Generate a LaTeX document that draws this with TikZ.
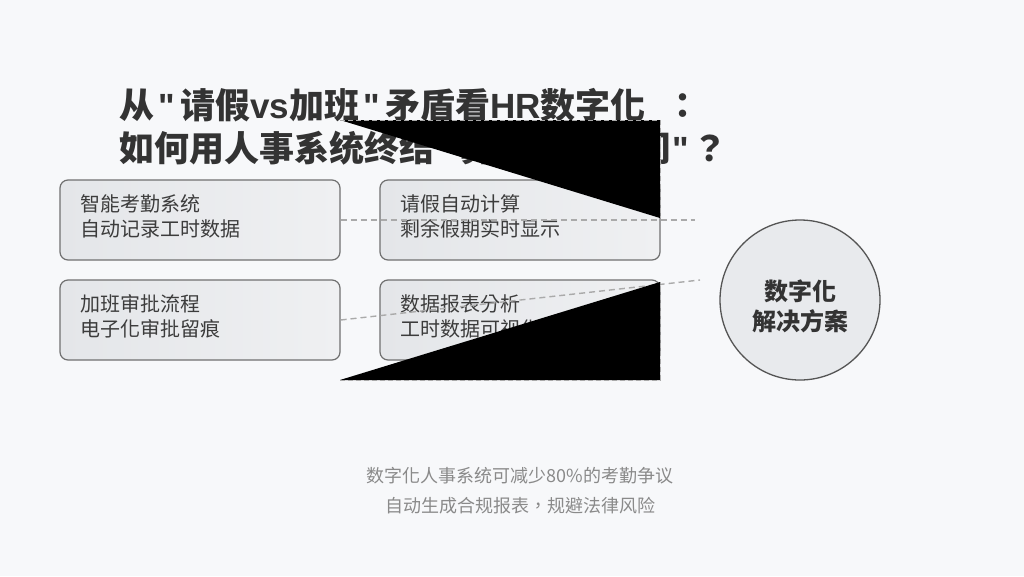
\documentclass[tikz,border=0pt]{standalone}
\usepackage{fontspec}
\setmainfont{Noto Sans CJK TC}[Ligatures=TeXOff]
\newfontfamily\titlelatin{Liberation Sans}[Ligatures=TeXOff]
\newcommand{\qmark}{\makebox[26pt]{\titlelatin "}}
\newcommand{\latinbit}[1]{{\titlelatin #1}}
\usetikzlibrary{positioning}
\definecolor{pagebg}{HTML}{F7F8FA}
\definecolor{boxleft}{HTML}{E4E6E9}
\definecolor{boxright}{HTML}{EFF0F2}
\definecolor{boxline}{HTML}{707070}
\definecolor{hubfill}{HTML}{E8EAED}
\definecolor{hubline}{HTML}{555555}
\definecolor{titlecol}{HTML}{333333}
\definecolor{textcol}{HTML}{3C3C3C}
\definecolor{notecol}{HTML}{8A8A8A}
\definecolor{dashcol}{HTML}{AAAAAA}

\begin{document}
\begin{tikzpicture}[x=1pt,y=-1pt]
\fill[pagebg] (0,0) rectangle (1024,576);
\useasboundingbox (0,0) rectangle (1024,576);
\tikzset{FeatStyle/.style ={draw=boxline, line width=1.2pt, rounded corners=8pt,
  left color=boxleft, right color=boxright, minimum width=280pt, minimum height=80pt,
  text width=240pt, inner xsep=20pt, inner ysep=0pt, align=left, text=textcol,
  text depth=34pt, font=\fontsize{20pt}{25pt}\selectfont}}
\tikzset{LinkStyle/.style ={draw=dashcol, line width=1.4pt, dash pattern=on 6pt off 4pt}}
\tikzset{MaskEdge/.style ={draw=dashcol, line width=1pt, dash pattern=on 5pt off 3pt}}
\node[inner sep=0, anchor=west, align=left, text=titlecol,
  font=\fontsize{35pt}{43pt}\selectfont\bfseries] (title) at (119,127)
  {从\qmark 请假\latinbit{vs}加班\qmark 矛盾看\latinbit{HR}数字化\hspace{20pt}：\\
   如何用人事系统终结\qmark 算不清的时间\makebox[22pt]{\titlelatin "}？};
\node[FeatStyle] (attend) at (200,220) {智能考勤系统\\自动记录工时数据};
\node[FeatStyle] (leave) at (520,220) {请假自动计算\\剩余假期实时显示};
\node[FeatStyle] (overtime) at (200,320) {加班审批流程\\电子化审批留痕};
\node[FeatStyle] (report) at (520,320) {数据报表分析\\工时数据可视化};
\node[circle, draw=hubline, line width=1.3pt, fill=hubfill, minimum size=160pt,
  inner sep=0] (hub) at (800,300) {};
\node[align=center, text=titlecol, font=\fontsize{24pt}{30pt}\selectfont\bfseries]
  (hublabel) at ([yshift=-6pt]hub.center) {数字化\\解决方案};
\coordinate (endA) at (695,220);
\coordinate (endB) at (700,280);
\draw[LinkStyle] (attend.east) -- (endA);
\draw[LinkStyle] (overtime.east) -- (endB);
\fill[black] (340,120) -- (660,120) -- (660,218) -- cycle;
\draw[MaskEdge] (340,120) -- (660,120) -- (660,218);
\fill[black] (340,380) -- (660,380) -- (660,282) -- cycle;
\draw[MaskEdge] (340,380) -- (660,380) -- (660,282);
\node[text=notecol, align=center, font=\fontsize{18pt}{30pt}\selectfont] (note) at (520,490.5)
  {数字化人事系统可减少80\%的考勤争议\\自动生成合规报表，规避法律风险};
\end{tikzpicture}
\end{document}
